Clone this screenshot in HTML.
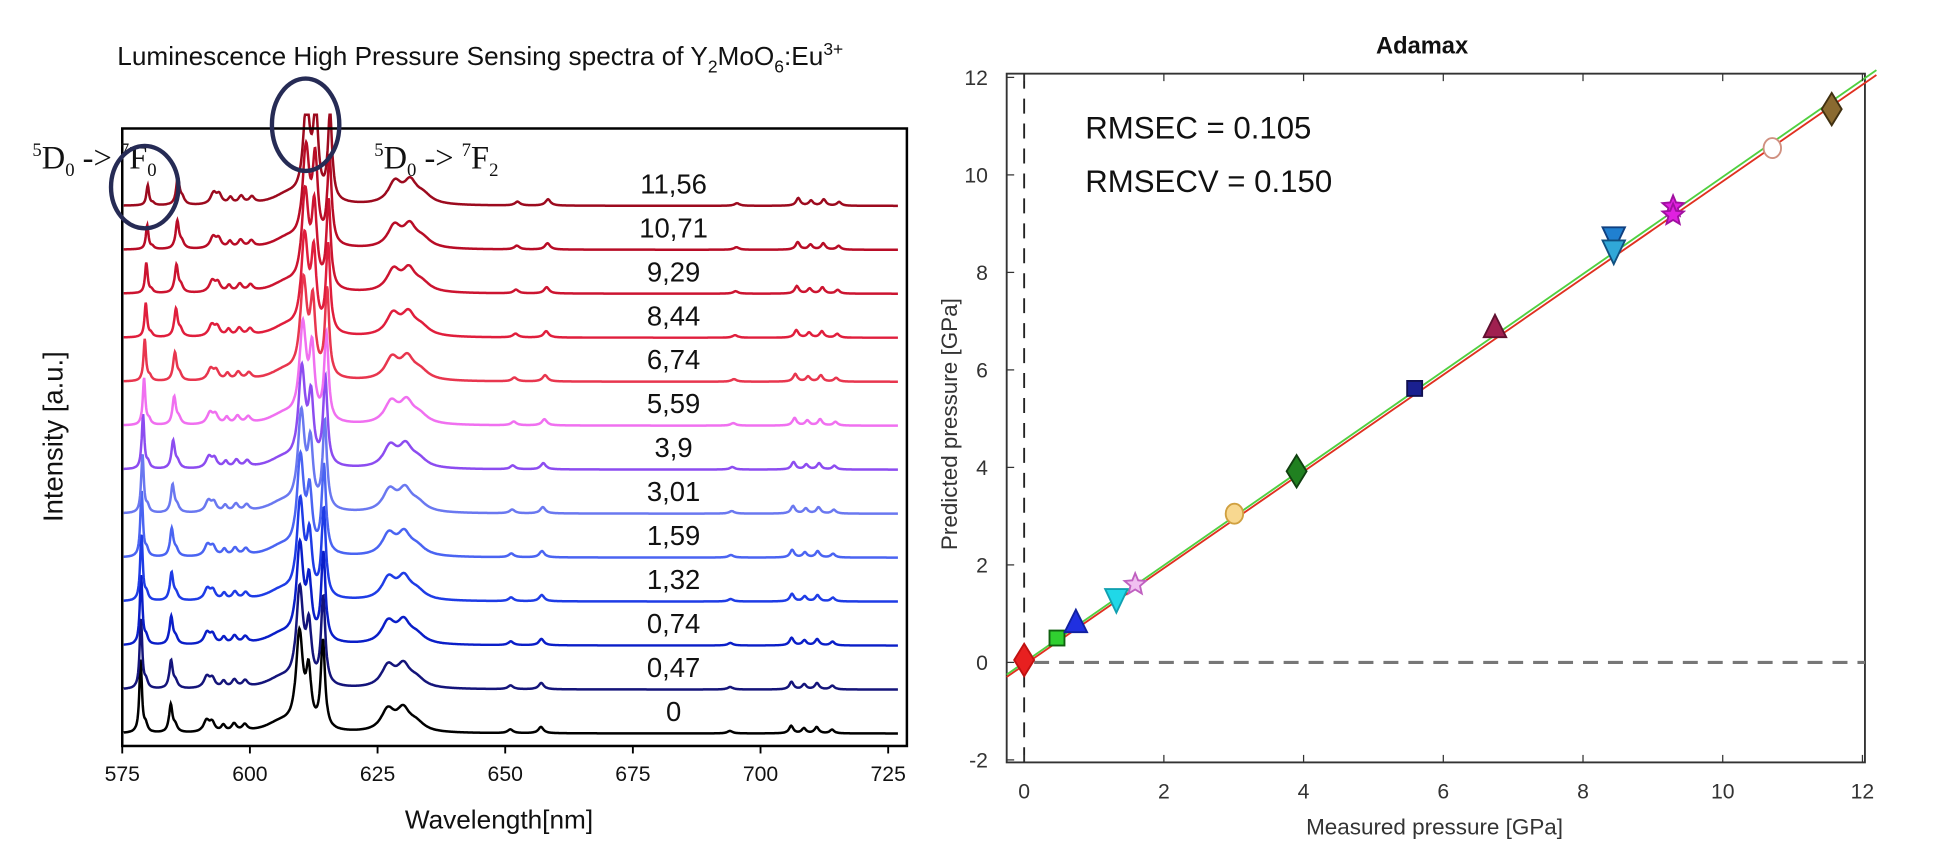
<!DOCTYPE html>
<html><head><meta charset="utf-8"><style>
body{margin:0;background:#fff;width:1956px;height:861px;overflow:hidden}
svg{display:block}
text{font-family:"Liberation Sans",sans-serif}
</style></head><body>
<svg id="fig" width="1956" height="861" viewBox="0 0 1568 690.2">
<g id="left"></g>
<g id="right"></g>
</svg>
<script>
const NS="http://www.w3.org/2000/svg";
// ---- left chart data ----
const pressures=[0,0.47,0.74,1.32,1.59,3.01,3.9,5.59,6.74,8.44,9.29,10.71,11.56];
const pressureLabels=["0","0,47","0,74","1,32","1,59","3,01","3,9","5,59","6,74","8,44","9,29","10,71","11,56"];
const traceColors=["#000000","#14147a","#0a1ec8","#1e3ce6","#4a64f2","#6a78f0","#8c4cf0","#f070f0","#e8364e","#e01e3c","#cc1430","#b80c26","#9c0a1e"];
const peakCenters=[578.6,579.6,584.5,585.4,591.5,592.6,594.8,596.9,599,606,609.7,611.5,614.3,627,630,632.5,651,657,694,706,708.5,711,714];
const peakHeights=[58,6,22,5,9,7,5,6,5,8,75,42,70,17,16,7,3,5,2,6,4,5,3];
const peakWidths=[0.3,0.4,0.4,0.5,0.7,0.6,0.5,0.6,0.6,3.5,0.8,0.6,0.5,1.6,1.5,2,0.6,0.6,0.6,0.5,0.5,0.5,0.5];
const xTicksL=[575,600,625,650,675,700,725];
// ---- right chart data ----
const measured=[0,0.47,0.74,1.32,1.59,3.01,3.9,5.59,6.74,8.44,8.44,9.29,9.29,10.71,11.56];
const predicted=[0.05,0.5,0.8,1.3,1.6,3.05,3.92,5.62,6.85,8.72,8.45,9.35,9.18,10.55,11.35];
const markerShapes=["diamond","square","tri","down","star","circle","diamond","square","tri","down","down","star","star","circle","diamond"];
const markerFill=["#e82020","#30d030","#2030e0","#20d8e8","#f0c0f0","#f8d890","#208020","#1a2090","#a02050","#2080d0","#30a8d8","#e020e0","#e020e0","#fff","#8a6a30"];
const markerStroke=["#c01010","#106010","#1020a0","#10a0b0","#c060c0","#d0a040","#104010","#101050","#601030","#104080","#105080","#a010a0","#a010a0","#d09080","#403010"];
const xTicksR=[0,2,4,6,8,10,12];
const yTicksR=[-2,0,2,4,6,8,10,12];

function el(tag,attrs,parent,txt){const e=document.createElementNS(NS,tag);for(const k in attrs)e.setAttribute(k,attrs[k]);if(txt!==undefined)e.textContent=txt;parent.appendChild(e);return e;}

// ===== LEFT =====
const L=document.getElementById('left');
const lx=w=>98+(w-575)*(614/150);
const baseTop=165, baseBot=588;
const baseY=i=>baseBot-i*(baseBot-baseTop)/12;
let t=el('text',{x:385,y:52,'font-size':21,'text-anchor':'middle',fill:'#111'},L);


t.innerHTML='Luminescence High Pressure Sensing spectra of Y<tspan font-size="14" dy="6">2</tspan><tspan dy="-6">MoO</tspan><tspan font-size="14" dy="6">6</tspan><tspan dy="-6">:Eu</tspan><tspan font-size="14" dy="-8">3+</tspan>';
pressures.forEach((p,i)=>{
  let d='';const b=baseY(i);
  for(let w=575.3;w<=727;w+=0.1){
    let s=0;
    peakCenters.forEach((c,k)=>{let h=peakHeights[k];if(k<2)h=h*(1-p/16);if(k===11)h=h*(1+p/20);const cc=c+0.12*p;const g=peakWidths[k];s+=h*g*g/((w-cc)*(w-cc)+g*g);});
    s=Math.min(s,b-92);
    d+=(d?'L':'M')+lx(w).toFixed(1)+','+(b-s).toFixed(1);
  }
  const path=el('path',{d:d,fill:'none',stroke:traceColors[i],'stroke-width':2},L);
  
  
  const lab=el('text',{x:540,y:b-10,'font-size':22,'text-anchor':'middle',fill:'#111'},L,pressureLabels[i]);
  
  
});
el('rect',{x:98,y:103,width:629,height:495,fill:'none',stroke:'#000','stroke-width':2},L);
xTicksL.forEach(v=>{
  el('line',{x1:lx(v),x2:lx(v),y1:598,y2:604,stroke:'#000','stroke-width':1.5},L);
  const tl=el('text',{x:lx(v),y:626,'font-size':17,'text-anchor':'middle',fill:'#111'},L,v);
  
  
});
t=el('text',{x:400,y:664,'font-size':21,'text-anchor':'middle',fill:'#111'},L,'Wavelength[nm]');

t=el('text',{x:0,y:0,'font-size':22,'text-anchor':'middle',fill:'#111',transform:'translate(50,350) rotate(-90)'},L,'Intensity [a.u.]');

t=el('text',{x:26,y:135,'font-size':26,fill:'#111','style':'font-family:"Liberation Serif",serif'},L);
t.innerHTML='<tspan font-size="15" dy="-10">5</tspan><tspan dy="10">D</tspan><tspan font-size="15" dy="6">0</tspan><tspan dy="-6"> -&gt; </tspan><tspan font-size="15" dy="-10">7</tspan><tspan dy="10">F</tspan><tspan font-size="15" dy="6">0</tspan>';

t=el('text',{x:300,y:135,'font-size':26,fill:'#111','style':'font-family:"Liberation Serif",serif'},L);
t.innerHTML='<tspan font-size="15" dy="-10">5</tspan><tspan dy="10">D</tspan><tspan font-size="15" dy="6">0</tspan><tspan dy="-6">  -&gt; </tspan><tspan font-size="15" dy="-10">7</tspan><tspan dy="10">F</tspan><tspan font-size="15" dy="6">2</tspan>';

t=el('ellipse',{cx:116,cy:150,rx:27,ry:33,fill:'none',stroke:'#262b55','stroke-width':3.5},L);

t=el('ellipse',{cx:245,cy:100,rx:27,ry:37,fill:'none',stroke:'#262b55','stroke-width':3.5},L);


// ===== RIGHT =====
const R=document.getElementById('right');
const rx=v=>821+v*56, ry=v=>531-v*39.08;
const fx0=807,fx1=1495,fy0=ry(12)-3,fy1=ry(-2)+2;
el('rect',{x:fx0,y:fy0,width:fx1-fx0,height:fy1-fy0,fill:'#fff',stroke:'#333','stroke-width':1.5},R);
el('line',{x1:rx(0),x2:rx(0),y1:fy0,y2:fy1,stroke:'#222','stroke-width':1.5,'stroke-dasharray':'12,8'},R);
el('line',{x1:rx(0)+8,x2:fx1,y1:ry(0),y2:ry(0),stroke:'#777','stroke-width':2.5,'stroke-dasharray':'12,8'},R);
let ln=el('line',{x1:rx(-0.25),y1:ry(-0.3),x2:rx(12.2),y2:ry(12.05),stroke:'#e03020','stroke-width':1.5},R);

ln=el('line',{x1:rx(-0.25),y1:ry(-0.25),x2:rx(12.2),y2:ry(12.15),stroke:'#50d040','stroke-width':1.5},R);

xTicksR.forEach(v=>{
  el('line',{x1:rx(v),x2:rx(v),y1:fy1,y2:fy1-6,stroke:'#333'},R);
  el('line',{x1:rx(v),x2:rx(v),y1:fy0,y2:fy0+6,stroke:'#333'},R);
  const tl=el('text',{x:rx(v),y:640,'font-size':17,'text-anchor':'middle',fill:'#333'},R,v);
  
});
yTicksR.forEach(v=>{
  el('line',{x1:fx0,x2:fx0+6,y1:ry(v),y2:ry(v),stroke:'#333'},R);
  const tl=el('text',{x:792,y:ry(v)+6,'font-size':17,'text-anchor':'end',fill:'#333'},R,v);
  
});
function star(cx,cy,r){let d='';for(let k=0;k<10;k++){const a=-Math.PI/2+k*Math.PI/5;const rr=k%2?r*0.45:r;d+=(k?'L':'M')+(cx+rr*Math.cos(a)).toFixed(1)+','+(cy+rr*Math.sin(a)).toFixed(1);}return d+'Z';}
measured.forEach((m,i)=>{
  const cx=rx(m),cy=ry(predicted[i]);const s=markerShapes[i];let e;
  const st={fill:markerFill[i],stroke:markerStroke[i],'stroke-width':1.5};
  if(s==='diamond')e=el('path',Object.assign({d:`M${cx},${cy-13}L${cx+8},${cy}L${cx},${cy+13}L${cx-8},${cy}Z`},st),R);
  else if(s==='square')e=el('rect',Object.assign({x:cx-6,y:cy-6,width:12,height:12},st),R);
  else if(s==='tri')e=el('path',Object.assign({d:`M${cx},${cy-11}L${cx+9},${cy+7}L${cx-9},${cy+7}Z`},st),R);
  else if(s==='down')e=el('path',Object.assign({d:`M${cx-9},${cy-8}L${cx+9},${cy-8}L${cx},${cy+11}Z`},st),R);
  else if(s==='star')e=el('path',Object.assign({d:star(cx,cy,9)},st),R);
  else e=el('ellipse',Object.assign({cx:cx,cy:cy,rx:7,ry:8},st),R);
  
  
});
t=el('text',{x:1140,y:43,'font-size':19,'font-weight':'bold','text-anchor':'middle',fill:'#111'},R,'Adamax');

t=el('text',{x:870,y:111,'font-size':25,fill:'#111'},R,'RMSEC = 0.105');

t=el('text',{x:870,y:154,'font-size':25,fill:'#111'},R,'RMSECV = 0.150');

t=el('text',{x:1150,y:669,'font-size':18,'text-anchor':'middle',fill:'#333'},R,'Measured pressure [GPa]');

t=el('text',{x:0,y:0,'font-size':18,'text-anchor':'middle',fill:'#333',transform:'translate(767,340) rotate(-90)'},R,'Predicted pressure [GPa]');

</script>
</body></html>
